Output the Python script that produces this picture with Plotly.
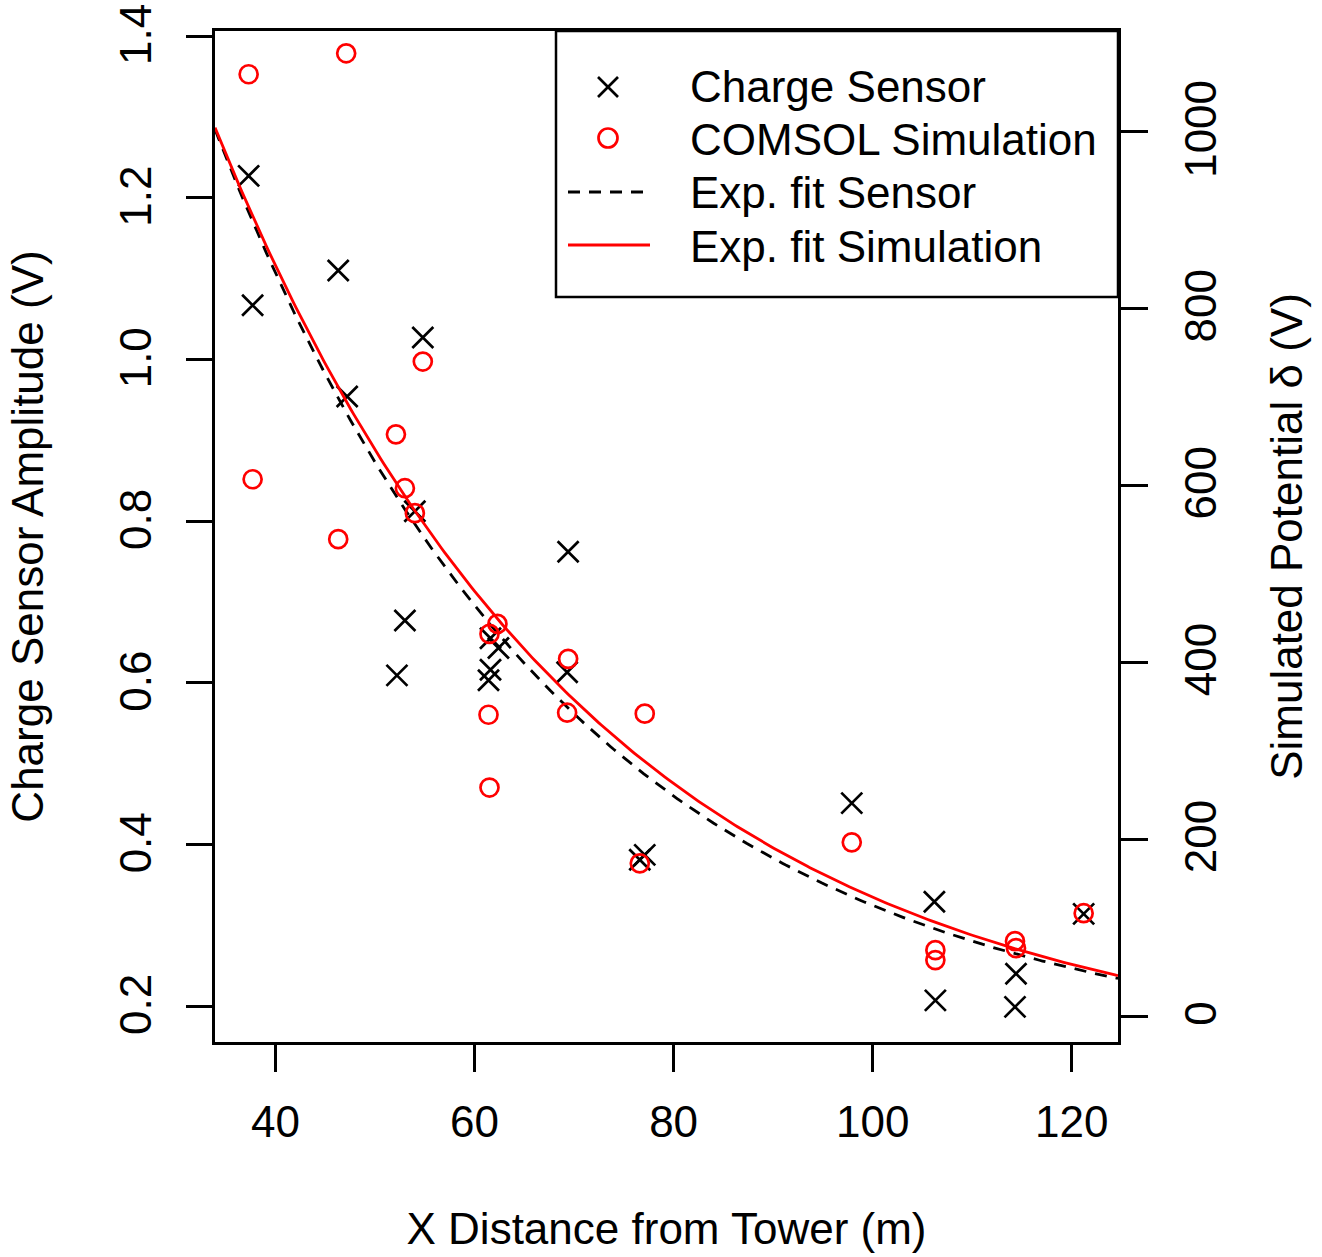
import numpy as np
import plotly.graph_objects as go

# ---------------- data ----------------
sensor_x = [37.3, 37.7, 46.3, 47.2, 54.8, 54.0, 53.0, 52.2, 61.6, 62.4, 61.6, 61.4,
            69.4, 69.3, 76.6, 77.1, 97.9, 106.2, 106.3, 114.4, 114.3, 121.2]
sensor_amp = [1.227, 1.067, 1.110, 0.954, 1.027, 0.812, 0.677, 0.609, 0.655, 0.643, 0.616, 0.603,
              0.762, 0.613, 0.381, 0.387, 0.451, 0.329, 0.207, 0.240, 0.199, 0.314]

sim_x = [37.3, 37.7, 47.1, 46.3, 54.8, 52.1, 53.0, 54.0, 61.5, 62.3, 61.4, 61.5,
         69.4, 69.3, 77.1, 76.6, 97.9, 106.3, 106.3, 114.3, 114.4, 121.2]
sim_potential = [1064.7, 606.8, 1088.4, 539.1, 739.9, 657.6, 596.7, 568.5, 432.0, 443.3, 340.6, 258.3,
                 403.8, 342.9, 341.8, 172.6, 196.3, 74.4, 63.2, 84.6, 76.7, 116.2]

# exponential fits  y = A * exp(-k x) + c
fit_sensor = (2.930, 0.02778, 0.1423)
fit_sim = (2576.9, 0.02631, -51.3)

x_ticks = [40, 60, 80, 100, 120]
y_ticks = [0.2, 0.4, 0.6, 0.8, 1.0, 1.2, 1.4]
y_ticklabels = ["0.2", "0.4", "0.6", "0.8", "1.0", "1.2", "1.4"]
y2_ticks = [0, 200, 400, 600, 800, 1000]

x_range = [33.92, 124.65]
y_range = [0.1555, 1.4062]
y2_range = [-29.4, 1113.6]

legend_labels = ["Charge Sensor", "COMSOL Simulation", "Exp. fit Sensor", "Exp. fit Simulation"]

# ---------------- figure ----------------
FONT = "Liberation Sans, Arial, Helvetica, sans-serif"
FS = 44
W, H = 1322, 1257
L, R, T, B = 215, 204, 31, 215
PW, PH = W - L - R, H - T - B

xf = np.linspace(x_range[0], x_range[1], 300)
sensor_fit_y = fit_sensor[0] * np.exp(-fit_sensor[1] * xf) + fit_sensor[2]
sim_fit_y = fit_sim[0] * np.exp(-fit_sim[1] * xf) + fit_sim[2]

fig = go.Figure()
fig.add_trace(go.Scatter(x=sensor_x, y=sensor_amp, mode="markers", name=legend_labels[0],
                         marker=dict(symbol="x-thin", size=21, color="black",
                                     line=dict(color="black", width=2.7)),
                         yaxis="y", showlegend=False))
fig.add_trace(go.Scatter(x=xf, y=sensor_fit_y, mode="lines", name=legend_labels[2],
                         line=dict(color="black", width=2.8, dash="12px,9px"),
                         yaxis="y", showlegend=False))
fig.add_trace(go.Scatter(x=sim_x, y=sim_potential, mode="markers", name=legend_labels[1],
                         marker=dict(symbol="circle-open", size=18, color="red",
                                     line=dict(color="red", width=2.7)),
                         yaxis="y2", showlegend=False))
fig.add_trace(go.Scatter(x=xf, y=sim_fit_y, mode="lines", name=legend_labels[3],
                         line=dict(color="red", width=2.8),
                         yaxis="y2", showlegend=False))

axis_common = dict(showgrid=False, zeroline=False, showline=True, linecolor="black",
                   linewidth=2.5, ticks="outside", tickcolor="black", tickwidth=2.5,
                   ticklabeloverflow="allow", automargin=False,
                   tickfont=dict(family=FONT, size=FS, color="black"))

fig.update_layout(
    width=W, height=H,
    margin=dict(l=L, r=R, t=T, b=B, pad=0, autoexpand=False),
    paper_bgcolor="white", plot_bgcolor="white",
    font=dict(family=FONT, size=FS, color="black"),
    showlegend=False,
    xaxis=dict(range=x_range, tickvals=x_ticks, ticklen=27, mirror=True,
               ticklabelstandoff=12,
               title=dict(text="X Distance from Tower (m)", standoff=69,
                          font=dict(family=FONT, size=FS)),
               **axis_common),
    yaxis=dict(range=y_range, tickvals=y_ticks, ticktext=y_ticklabels, ticklen=26,
               tickangle=-90, mirror=True, ticklabelstandoff=18, ticklabelshift=5,
               title=dict(text="Charge Sensor Amplitude (V)", standoff=54,
                          font=dict(family=FONT, size=FS)),
               **axis_common),
    yaxis2=dict(range=y2_range, tickvals=y2_ticks, ticklen=27, overlaying="y", side="right",
                tickangle=-90, ticklabelstandoff=15, ticklabelshift=4,
                title=dict(text="Simulated Potential δ (V)", standoff=48,
                           font=dict(family=FONT, size=FS)),
                **axis_common),
)

# ---------------- legend (drawn like the R legend box) ----------------
def px(xpix):
    return (xpix - L) / PW

def py(ypix):
    return (H - B - ypix) / PH

shapes = [
    dict(type="rect", xref="paper", yref="paper", x0=px(556), x1=px(1118), y0=py(297), y1=py(31),
         line=dict(color="black", width=2.5), fillcolor="white", layer="above"),
]
cx, r = 608, 10
# cross
shapes += [
    dict(type="line", xref="paper", yref="paper", x0=px(cx - r), x1=px(cx + r), y0=py(87 - r), y1=py(87 + r),
         line=dict(color="black", width=2.7), layer="above"),
    dict(type="line", xref="paper", yref="paper", x0=px(cx - r), x1=px(cx + r), y0=py(87 + r), y1=py(87 - r),
         line=dict(color="black", width=2.7), layer="above"),
]
# circle
shapes.append(dict(type="circle", xref="paper", yref="paper", x0=px(cx - 9.5), x1=px(cx + 9.5),
                   y0=py(138 + 9.5), y1=py(138 - 9.5), line=dict(color="red", width=2.7), layer="above"))
# lines
shapes.append(dict(type="line", xref="paper", yref="paper", x0=px(568), x1=px(650), y0=py(192), y1=py(192),
                   line=dict(color="black", width=2.8, dash="12px,9px"), layer="above"))
shapes.append(dict(type="line", xref="paper", yref="paper", x0=px(568), x1=px(650), y0=py(245), y1=py(245),
                   line=dict(color="red", width=2.8), layer="above"))

annotations = []
for lab, yy in zip(legend_labels, [87, 139, 193, 246]):
    annotations.append(dict(text=lab, xref="paper", yref="paper", x=px(688), y=py(yy),
                            xanchor="left", yanchor="middle", showarrow=False,
                            font=dict(family=FONT, size=FS, color="black")))

fig.update_layout(shapes=shapes, annotations=annotations)

# remove the browser's default page margin so the figure sits at the window origin
fig.write_html("out.html", config={"displayModeBar": False},
               post_script="document.body.style.margin='0px';")
